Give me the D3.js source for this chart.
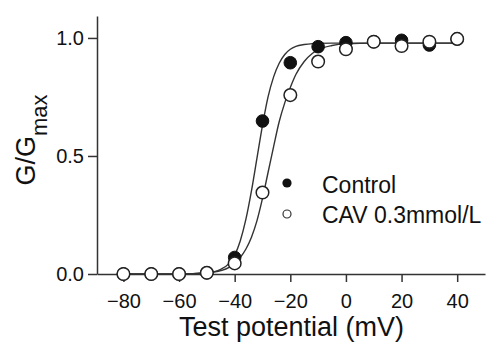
<!DOCTYPE html>
<html>
<head>
<meta charset="utf-8">
<script src="https://cdn.jsdelivr.net/npm/d3@7"></script>
<style>
  body { margin: 0; background: #fff; }
  svg { display: block; font-family: Helvetica, Arial, "Liberation Sans", sans-serif; }
</style>
</head>
<body>
<svg id="mainsvg" width="494" height="343"></svg>
<script>
// test potentials (mV) of the measured points
const voltages = [-80, -70, -60, -50, -40, -30, -20, -10, 0, 10, 20, 30, 40];
// G/Gmax, filled circles
const controlValues = [0, 0, 0, 0.005, 0.07, 0.648, 0.895, 0.963, 0.98, 0.984, 0.99, 0.97, 0.996];
// G/Gmax, open circles
const cavValues = [0, 0, 0, 0.005, 0.045, 0.345, 0.758, 0.90, 0.952, 0.984, 0.966, 0.984, 0.996];

// fitted curves
const fitVoltages = [-80, -60, -50, -45, -42, -40, -38, -36, -34, -32, -30, -28, -26, -24, -22, -20, -18, -15, -12, -10, -5, 0, 10, 20, 30, 40];
const controlFit = [0, 0, 0.005, 0.02, 0.045, 0.08, 0.14, 0.23, 0.35, 0.49, 0.63, 0.75, 0.835, 0.893, 0.93, 0.952, 0.964, 0.972, 0.976, 0.977, 0.978, 0.978, 0.978, 0.978, 0.978, 0.978];
const cavFit = [0, 0, 0.005, 0.014, 0.028, 0.045, 0.07, 0.105, 0.155, 0.225, 0.32, 0.43, 0.54, 0.645, 0.725, 0.79, 0.845, 0.90, 0.935, 0.95, 0.968, 0.975, 0.978, 0.978, 0.978, 0.978];

const xTicks = [-80, -60, -40, -20, 0, 20, 40];
const yTicks = [0, 0.5, 1.0];
const legendLabels = ['Control', 'CAV 0.3mmol/L'];

const svg = d3.select('#mainsvg');
const ink = '#111';

const x = d3.scaleLinear().domain([-89.5, 50]).range([97, 485]);
const y = d3.scaleLinear().domain([0, 1.093]).range([274, 16]);

// axes
const xAxis = d3.axisBottom(x).tickValues(xTicks)
    .tickSize(8).tickPadding(12).tickSizeOuter(0);
const yAxis = d3.axisLeft(y).tickValues(yTicks)
    .tickFormat(d3.format('.1f'))
    .tickSize(9).tickPadding(4).tickSizeOuter(0);

const xg = svg.append('g').attr('transform', `translate(0, ${y(0)})`).call(xAxis);
const yg = svg.append('g').attr('transform', `translate(${x.range()[0]}, 0)`).call(yAxis);

[xg, yg].forEach(g => {
    g.select('.domain').attr('stroke', '#333').attr('stroke-width', 1.5);
    g.selectAll('.tick line').attr('stroke', '#333').attr('stroke-width', 1.5);
    g.selectAll('.tick text').attr('fill', ink).attr('font-size', 20)
        .attr('font-family', 'Helvetica, Arial, "Liberation Sans", sans-serif');
});

// fit lines
const line = d3.line()
    .x(d => x(d[0]))
    .y(d => y(d[1]))
    .curve(d3.curveMonotoneX);

[controlFit, cavFit].forEach(vals => {
    svg.append('path')
        .datum(fitVoltages.map((v, i) => [v, vals[i]]))
        .attr('fill', 'none')
        .attr('stroke', '#333')
        .attr('stroke-width', 1.4)
        .attr('d', line);
});

// points: filled first, open (white) on top
svg.append('g').selectAll('circle')
    .data(voltages.map((v, i) => [v, controlValues[i]]))
    .join('circle')
    .attr('cx', d => x(d[0]))
    .attr('cy', d => y(d[1]))
    .attr('r', 6.3)
    .attr('fill', '#111')
    .attr('stroke', '#111')
    .attr('stroke-width', 1);

svg.append('g').selectAll('circle')
    .data(voltages.map((v, i) => [v, cavValues[i]]))
    .join('circle')
    .attr('cx', d => x(d[0]))
    .attr('cy', d => y(d[1]))
    .attr('r', 6.3)
    .attr('fill', '#fff')
    .attr('stroke', '#222')
    .attr('stroke-width', 1.5);

// legend
const legend = svg.append('g');
legend.append('circle').attr('cx', 287).attr('cy', 183).attr('r', 4.6).attr('fill', '#111');
legend.append('circle').attr('cx', 287).attr('cy', 214).attr('r', 4)
    .attr('fill', '#fff').attr('stroke', '#333').attr('stroke-width', 1.2);
legend.selectAll('text')
    .data(legendLabels)
    .join('text')
    .attr('x', 322)
    .attr('y', (d, i) => 193 + i * 30)
    .attr('font-size', 23)
    .attr('fill', ink)
    .text(d => d);

// x title
svg.append('text')
    .attr('x', 291.5)
    .attr('y', 336)
    .attr('text-anchor', 'middle')
    .attr('font-size', 27)
    .attr('fill', ink)
    .text('Test potential (mV)');

// y title: G/Gmax
const yTitle = svg.append('text')
    .attr('transform', 'translate(35, 140) rotate(-90)')
    .attr('text-anchor', 'middle')
    .attr('fill', ink);
yTitle.append('tspan').attr('font-size', 27).text('G/G');
yTitle.append('tspan').attr('font-size', 22).attr('dy', 12).text('max');
</script>
</body>
</html>
